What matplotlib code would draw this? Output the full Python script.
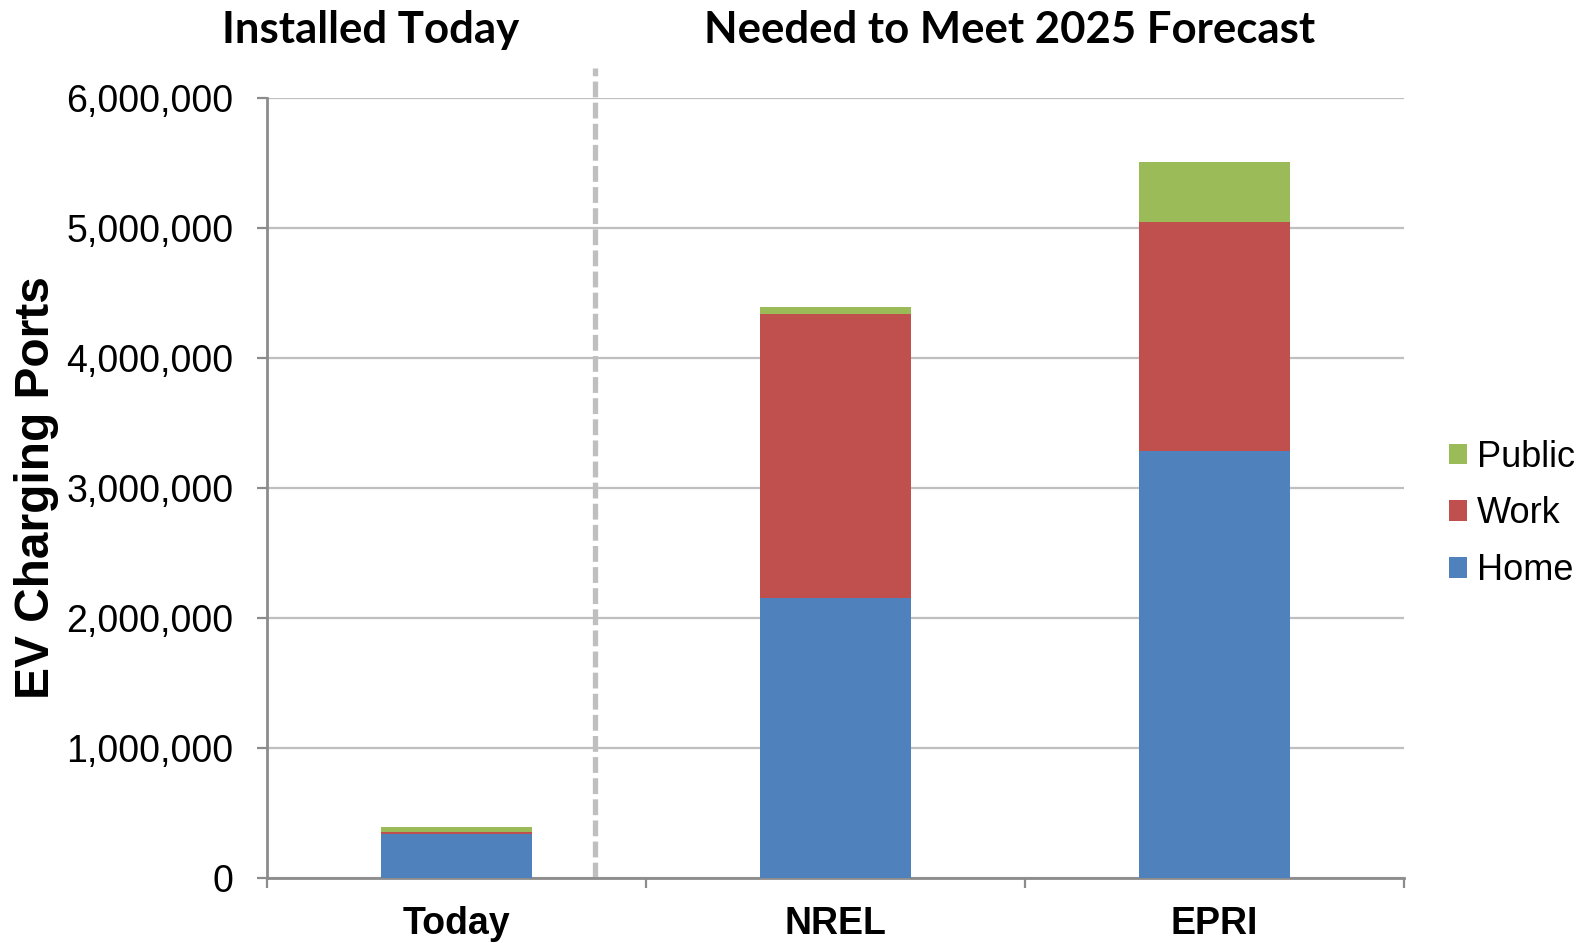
import numpy as np
import matplotlib.pyplot as plt
from matplotlib.ticker import FuncFormatter, MultipleLocator

# Data
categories = ['Today', 'NREL', 'EPRI']
home = [343000, 2155000, 3289000]
work = [15000, 2188000, 1762000]
public = [39000, 49000, 461000]

group_titles = ['Installed Today', 'Needed to Meet 2025 Forecast']

blue = '#4F81BD'
red = '#C0504D'
green = '#9BBB59'
axis_grey = '#8C8C8C'
grid_grey = '#BFBFBF'

fig = plt.figure(figsize=(15.95, 9.43), dpi=100)
ax = fig.add_axes([0.1674, 0.0686, 0.8803 - 0.1674, 0.8958 - 0.0686])

x = np.arange(len(categories))
width = 0.4
b1 = ax.bar(x, home, width, color=blue, label='Home', zorder=3)
b2 = ax.bar(x, work, width, bottom=home, color=red, label='Work', zorder=3)
bottom2 = np.array(home) + np.array(work)
b3 = ax.bar(x, public, width, bottom=bottom2, color=green, label='Public', zorder=3)

ax.set_xlim(-0.5, 2.5)
ax.set_ylim(0, 6000000)

# axes styling
for s in ['top', 'right']:
  ax.spines[s].set_visible(False)
for s in ['left', 'bottom']:
  ax.spines[s].set_color(axis_grey)
  ax.spines[s].set_linewidth(2)

ax.yaxis.set_major_locator(MultipleLocator(1000000))
ax.yaxis.set_major_formatter(FuncFormatter(lambda v, p: f'{int(v):,}'))
ax.grid(axis='y', color=grid_grey, linewidth=1.6, zorder=0)
ax.tick_params(axis='y', labelsize=27, length=7, width=1.6, color=axis_grey, pad=17)
for t in ax.get_yticklabels():
  t.set_fontfamily('Liberation Sans')

ax.set_xticks(x)
ax.set_xticklabels(categories, fontsize=27, fontweight='bold', family='Liberation Sans')
ax.set_xticks([-0.5, 0.5, 1.5, 2.5], minor=True)
ax.tick_params(axis='x', which='major', length=0, pad=20)
ax.tick_params(axis='x', which='minor', length=7, width=1.6, color=axis_grey)

# dashed separator between groups
ax.plot([0.365, 0.365], [0, 6230000], color=grid_grey, linewidth=3.8,
        dashes=(3.0, 1.0), solid_capstyle='butt', dash_capstyle='butt',
        clip_on=False, zorder=2)

# group titles
fig.text(0.2326, 0.968, group_titles[0], ha='center', va='center',
         fontsize=31.5, fontweight='bold', family='Lato')
fig.text(0.6330, 0.968, group_titles[1], ha='center', va='center',
         fontsize=31.5, fontweight='bold', family='Lato')

# y label
fig.text(0.0226, 0.4825, 'EV Charging Ports', rotation=90, ha='center', va='center',
         fontsize=34.5, fontweight='bold', family='Liberation Sans')

fig.legend(handles=[b3, b2, b1], labels=['Public', 'Work', 'Home'],
           loc='center left', bbox_to_anchor=(0.9085, 0.455),
           frameon=False, prop={'family': 'Liberation Sans', 'size': 26},
           handlelength=0.5, handleheight=0.5, handletextpad=0.28,
           labelspacing=0.6, borderpad=0, borderaxespad=0)

plt.savefig('out.png', dpi=100)
